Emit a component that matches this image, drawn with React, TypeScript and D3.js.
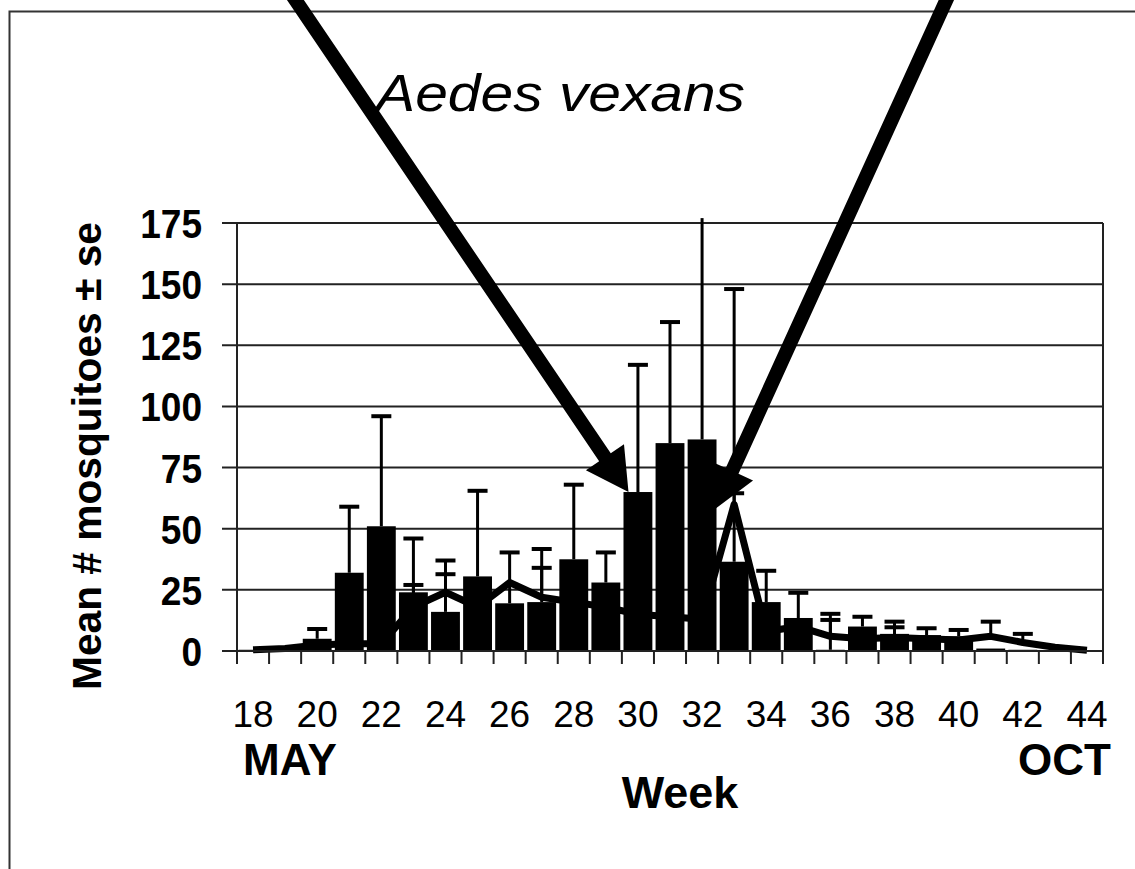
import React from 'react';
import * as d3 from 'd3';

// weeks 18..44 (May to October)
const weeks = [18, 19, 20, 21, 22, 23, 24, 25, 26, 27, 28, 29, 30, 31, 32, 33, 34, 35, 36, 37, 38, 39, 40, 41, 42, 43, 44];

// bar series: mean and mean+se
const barMean = [0.5, 1, 5, 32, 51, 24, 16, 30.5, 19.5, 20, 37.5, 28, 65, 85, 86.5, 36.5, 20, 13.5, 0.5, 10, 7, 6.5, 6, 1, 0.5, 0.3, 0.2];
const barUpper = [null, null, 9, 59, 96, 46, 37, 65.5, 40.3, 41.7, 68, 40.3, 117, 134.5, 177, 148, 32.8, 23.8, 15.2, 14, 12, 9.3, 8.6, null, null, null, null];

// line series: mean and mean+se
const lineMean = [0.5, 1, 2.5, 3, 3, 18, 24, 18, 28, 22, 20, 18, 15, 14, 13, 60, 8, 10, 6, 5, 5.5, 5, 4.5, 6, 3.5, 1.5, 0.3];
const lineUpper = [null, null, null, null, null, 27, 31.4, null, null, 34, null, null, null, null, null, 64.5, null, null, 12.7, null, 9.7, null, null, 12, 7, null, null];

const yTicks = [0, 25, 50, 75, 100, 125, 150, 175];
const xLabels = [18, 20, 22, 24, 26, 28, 30, 32, 34, 36, 38, 40, 42, 44];

const FONT = '"Liberation Sans", Arial, sans-serif';

const left = 237;
const right = 1103;
const top = 223;
const bottom = 651;

function arrowPath(x0: number, y0: number, x1: number, y1: number) {
  const shaft = 14;
  const headLen = 42;
  const headW = 46;
  const dx = x1 - x0;
  const dy = y1 - y0;
  const len = Math.sqrt(dx * dx + dy * dy);
  const ux = dx / len;
  const uy = dy / len;
  const px = -uy;
  const py = ux;
  const bx = x1 - ux * headLen;
  const by = y1 - uy * headLen;
  const pts = [
    [x0 + px * shaft / 2, y0 + py * shaft / 2],
    [bx + px * shaft / 2, by + py * shaft / 2],
    [bx + px * headW / 2, by + py * headW / 2],
    [x1, y1],
    [bx - px * headW / 2, by - py * headW / 2],
    [bx - px * shaft / 2, by - py * shaft / 2],
    [x0 - px * shaft / 2, y0 - py * shaft / 2],
  ];
  return 'M' + pts.map((p) => p.join(',')).join('L') + 'Z';
}

export default function App() {
  const x = d3.scaleBand<number>()
    .domain(weeks)
    .range([left, right])
    .paddingInner(0.1)
    .paddingOuter(0.05);
  const y = d3.scaleLinear().domain([0, 175]).range([bottom, top]);

  const bw = x.bandwidth();
  const step = x.step();
  const cx = (w: number) => (x(w) as number) + bw / 2;
  const boundaries = weeks.map((w) => (x(w) as number) - (step - bw) / 2).concat([right]);

  const line = d3.line<number>()
    .x((_, i) => cx(weeks[i]))
    .y((d) => y(d));

  const capW = 20;

  // arrows point at week 30 bar and the week 33 spike
  const tipL = [(x(30) as number) + 5, y(barMean[weeks.indexOf(30)])];
  const tipR = [(x(33) as number) - 5, y(58)];

  return (
    <svg width={1135} height={869} style={{ position: 'absolute', left: 0, top: 0, background: '#fff' }}>
      <path d="M9.5,869V11.5H1135" fill="none" stroke="#333" strokeWidth={2} />

      <text x={376} y={111} fontFamily={FONT} fontStyle="italic" fontSize={52} textLength={369} lengthAdjust="spacingAndGlyphs">Aedes vexans</text>

      {yTicks.map((t) => (
        <g key={t}>
          <line x1={left - 15} x2={right} y1={y(t)} y2={y(t)} stroke="#222" strokeWidth={2} />
          <text x={202} y={y(t) + 15} textAnchor="end" fontFamily={FONT} fontWeight="bold" fontSize={41}
            textLength={String(t).length * 20.6} lengthAdjust="spacingAndGlyphs">{t}</text>
        </g>
      ))}
      <line x1={right} x2={right} y1={top} y2={bottom} stroke="#222" strokeWidth={2} />

      {weeks.map((w, i) => (
        <rect key={w} x={x(w)} y={y(barMean[i])} width={bw} height={bottom - y(barMean[i])} fill="#000" />
      ))}
      {weeks.map((w, i) => {
        const u = barUpper[i];
        if (u == null) return null;
        return (
          <g key={w} stroke="#000">
            <line x1={cx(w)} x2={cx(w)} y1={y(barMean[i])} y2={y(u)} strokeWidth={3} />
            {u <= 175 && <line x1={cx(w) - capW / 2} x2={cx(w) + capW / 2} y1={y(u)} y2={y(u)} strokeWidth={4} />}
          </g>
        );
      })}

      <path d={line(lineMean) as string} fill="none" stroke="#000" strokeWidth={7} strokeLinejoin="round" />
      {weeks.map((w, i) => {
        const u = lineUpper[i];
        if (u == null) return null;
        return (
          <g key={w} stroke="#000">
            <line x1={cx(w)} x2={cx(w)} y1={y(lineMean[i])} y2={y(u)} strokeWidth={3} />
            <line x1={cx(w) - capW / 2} x2={cx(w) + capW / 2} y1={y(u)} y2={y(u)} strokeWidth={4} />
          </g>
        );
      })}

      <line x1={left} x2={left} y1={top} y2={bottom} stroke="#222" strokeWidth={2} />
      <line x1={left} x2={right} y1={bottom} y2={bottom} stroke="#222" strokeWidth={2} />
      {boundaries.map((b, i) => (
        <line key={i} x1={b} x2={b} y1={bottom} y2={bottom + 13} stroke="#222" strokeWidth={2} />
      ))}
      {xLabels.map((w) => (
        <text key={w} x={cx(w)} y={727} textAnchor="middle" fontFamily={FONT} fontSize={37}>{w}</text>
      ))}
      <text x={243} y={775} fontFamily={FONT} fontWeight="bold" fontSize={44}>MAY</text>
      <text x={1111} y={775} textAnchor="end" fontFamily={FONT} fontWeight="bold" fontSize={44}>OCT</text>
      <text x={680} y={808} textAnchor="middle" fontFamily={FONT} fontWeight="bold" fontSize={45}>Week</text>

      <text transform="translate(101,456) rotate(-90)" textAnchor="middle" fontFamily={FONT} fontWeight="bold" fontSize={41}
        textLength={468} lengthAdjust="spacingAndGlyphs">Mean # mosquitoes ± se</text>

      <path d={arrowPath(290, -8, tipL[0], tipL[1])} fill="#000" />
      <path d={arrowPath(950, -8, tipR[0], tipR[1])} fill="#000" />
    </svg>
  );
}
